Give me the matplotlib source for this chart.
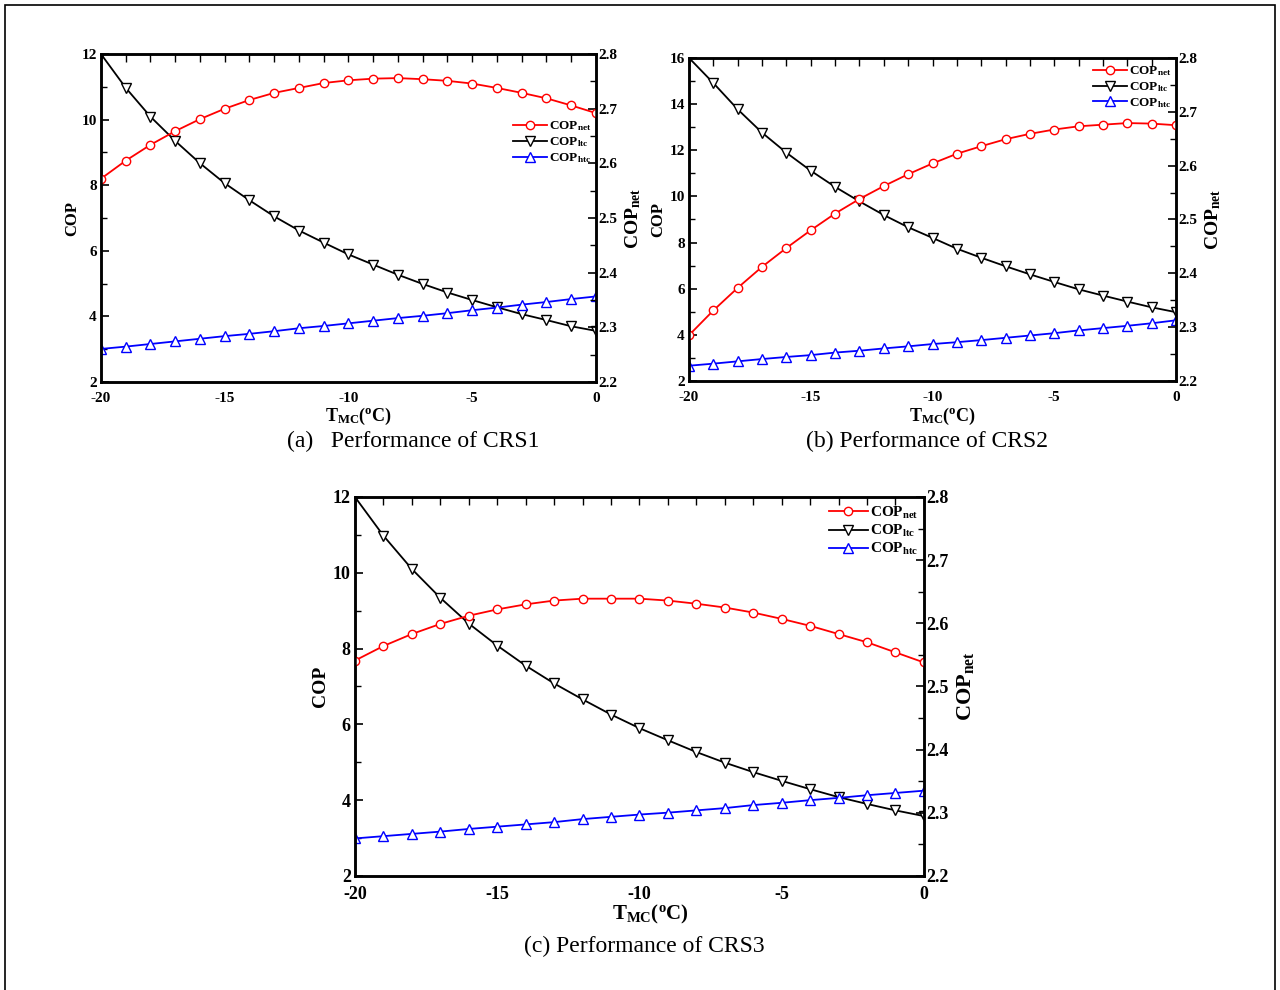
import matplotlib
matplotlib.use("Agg")
import matplotlib.pyplot as plt
from matplotlib.ticker import MultipleLocator
from matplotlib.patches import Rectangle

plt.rcParams['font.family'] = ['Liberation Serif', 'DejaVu Serif']
plt.rcParams['mathtext.fontset'] = 'custom'
plt.rcParams['mathtext.rm'] = 'Liberation Serif:bold'
plt.rcParams['mathtext.bf'] = 'Liberation Serif:bold'
plt.rcParams['mathtext.it'] = 'Liberation Serif:bold'
plt.rcParams['axes.unicode_minus'] = False

T = [-20, -19, -18, -17, -16, -15, -14, -13, -12, -11, -10,
     -9, -8, -7, -6, -5, -4, -3, -2, -1, 0]

# CRS1
a_ltc = [12.0, 10.97, 10.09, 9.35, 8.67, 8.06, 7.54, 7.05, 6.62, 6.25, 5.89,
         5.58, 5.27, 4.99, 4.73, 4.50, 4.28, 4.07, 3.89, 3.70, 3.56]
a_htc = [3.01, 3.08, 3.16, 3.24, 3.32, 3.40, 3.47, 3.55, 3.64, 3.71, 3.79,
         3.87, 3.95, 4.02, 4.10, 4.19, 4.27, 4.36, 4.44, 4.53, 4.61]
a_net = [2.572, 2.605, 2.634, 2.659, 2.681, 2.700, 2.716, 2.729, 2.738, 2.747, 2.752,
         2.755, 2.756, 2.754, 2.751, 2.746, 2.738, 2.729, 2.719, 2.706, 2.692]

# CRS2
b_ltc = [16.0, 14.91, 13.77, 12.76, 11.89, 11.11, 10.41, 9.78, 9.19, 8.66, 8.20,
         7.73, 7.34, 6.97, 6.62, 6.29, 5.97, 5.70, 5.44, 5.19, 4.98]
b_htc = [2.66, 2.75, 2.85, 2.95, 3.04, 3.12, 3.23, 3.31, 3.41, 3.50, 3.60,
         3.68, 3.77, 3.87, 3.97, 4.07, 4.19, 4.29, 4.39, 4.50, 4.63]
b_net = [2.285, 2.331, 2.373, 2.412, 2.447, 2.480, 2.511, 2.538, 2.562, 2.584, 2.604,
         2.622, 2.636, 2.649, 2.659, 2.667, 2.673, 2.676, 2.679, 2.678, 2.675]

# CRS3
c_ltc = [12.0, 10.98, 10.10, 9.34, 8.66, 8.08, 7.55, 7.08, 6.66, 6.26, 5.90,
         5.58, 5.27, 4.99, 4.74, 4.51, 4.29, 4.08, 3.90, 3.73, 3.58]
c_htc = [2.99, 3.05, 3.11, 3.17, 3.24, 3.30, 3.36, 3.42, 3.50, 3.56, 3.62,
         3.67, 3.73, 3.79, 3.87, 3.93, 4.00, 4.06, 4.13, 4.19, 4.25]
c_net = [2.541, 2.564, 2.583, 2.599, 2.612, 2.622, 2.630, 2.636, 2.639, 2.639, 2.639,
         2.636, 2.631, 2.625, 2.617, 2.607, 2.596, 2.583, 2.570, 2.554, 2.538]

captions = ['(a)   Performance of CRS1', '(b) Performance of CRS2', '(c) Performance of CRS3']
labels = [r'$\mathbf{COP_{net}}$', r'$\mathbf{COP_{ltc}}$', r'$\mathbf{COP_{htc}}$']

fig = plt.figure(figsize=(12.8, 9.9), dpi=100)
fig.patches.append(Rectangle((0.004, -0.01), 0.992, 1.005, transform=fig.transFigure,
                             fill=False, edgecolor='black', linewidth=1.2))


def panel(rect, ltc, htc, net, ymax, fs, lfs, cap, cap_xy, leg_anchor, ylab_pad, rlab_pad, xlab_y):
    ax = fig.add_axes(rect)
    ax2 = ax.twinx()
    l2, = ax.plot(T, ltc, color='black', lw=1.3, marker='v', ms=7, mfc='white', mec='black', mew=1.0)
    l3, = ax.plot(T, htc, color='blue', lw=1.3, marker='^', ms=7, mfc='white', mec='blue', mew=1.0)
    l1, = ax2.plot(T, net, color='red', lw=1.3, marker='o', ms=6, mfc='white', mec='red', mew=1.0)
    ax.set_xlim(-20, 0)
    ax.set_ylim(2, ymax)
    ax2.set_ylim(2.2, 2.8)
    ax.set_xticks([-20, -15, -10, -5, 0])
    ax.xaxis.set_minor_locator(MultipleLocator(1))
    ax.yaxis.set_major_locator(MultipleLocator(2))
    ax.yaxis.set_minor_locator(MultipleLocator(1))
    ax2.yaxis.set_minor_locator(MultipleLocator(0.05))
    ax2.set_yticks([2.2, 2.3, 2.4, 2.5, 2.6, 2.7, 2.8])
    ax2.set_yticklabels(['2.2', '2.3', '2.4', '2.5', '2.6', '2.7', '2.8'])
    ax.tick_params(axis='y', which='both', direction='in', left=True, right=False,
                   labelsize=fs, pad=3)
    ax.tick_params(axis='y', which='major', length=6, width=1.2)
    ax.tick_params(axis='y', which='minor', length=4, width=1.0)
    ax.tick_params(axis='x', which='both', direction='in', top=True, bottom=False,
                   labelsize=fs, pad=7)
    ax.tick_params(axis='x', which='both', length=6, width=1.0)
    ax2.tick_params(axis='y', which='both', direction='in', labelsize=fs, pad=2)
    ax2.tick_params(axis='y', which='major', length=6, width=1.2)
    ax2.tick_params(axis='y', which='minor', length=4, width=1.0)
    for a in (ax, ax2):
        for lab in a.get_xticklabels() + a.get_yticklabels():
            lab.set_fontweight('bold')
        for s in a.spines.values():
            s.set_linewidth(1.8)
    ax.set_ylabel('COP', fontsize=fs + 1, fontweight='bold', labelpad=ylab_pad)
    ax2.set_ylabel(r'$\mathbf{COP_{net}}$', fontsize=fs + 3, labelpad=rlab_pad)
    ax.set_xlabel(r'$\mathbf{T_{MC}(^oC)}$', fontsize=fs + 2, labelpad=0)
    ax.xaxis.set_label_coords(0.52, xlab_y)
    ax2.legend([l1, l2, l3], labels, loc='upper right', bbox_to_anchor=leg_anchor,
               frameon=False, fontsize=lfs, handlelength=2.6, handletextpad=0.1,
               labelspacing=0.15, borderaxespad=0.0, borderpad=0.0)
    fig.text(cap_xy[0], cap_xy[1], cap, fontsize=17, ha='center', va='center')
    return ax


panel([0.0789, 0.6141, 0.3867, 0.3313], a_ltc, a_htc, a_net, 12, 11, 9.5,
      captions[0], (0.323, 0.554), (0.99, 0.80), 1, 4, -0.074)
panel([0.5383, 0.6152, 0.3805, 0.3263], b_ltc, b_htc, b_net, 16, 11, 9.5,
      captions[1], (0.724, 0.554), (0.99, 0.98), 2, 4, -0.076)
panel([0.2773, 0.1152, 0.4445, 0.3828], c_ltc, c_htc, c_net, 12, 13, 11,
      captions[2], (0.503, 0.044), (0.99, 0.98), 3, 4, -0.072)

fig.savefig('out.png', dpi=100)
